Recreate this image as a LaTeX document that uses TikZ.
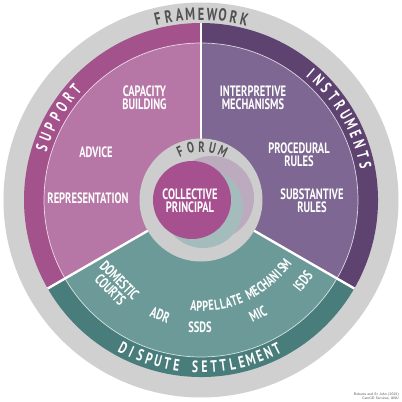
\documentclass[tikz,border=0pt]{standalone}
\usepackage{fontspec}
\newfontfamily\dinfont{PT Sans}[FakeStretch=0.7]
\definecolor{outergrey}{RGB}{208,208,208}
\definecolor{forumgrey}{RGB}{205,205,205}
\definecolor{suplight}{RGB}{183,119,166}
\definecolor{supdark}{RGB}{164,82,140}
\definecolor{inslight}{RGB}{126,103,146}
\definecolor{insdark}{RGB}{94,67,113}
\definecolor{dislight}{RGB}{107,154,152}
\definecolor{disdark}{RGB}{72,125,123}
\definecolor{principal}{RGB}{166,80,143}
\definecolor{mauveshadow}{RGB}{188,170,190}
\definecolor{tealshadow}{RGB}{165,188,188}
\definecolor{darktext}{RGB}{80,80,80}
\tikzset{
  lbl/.style={font=\fontsize{15}{13}\selectfont\dinfont\bfseries, text=white, align=center, inner sep=0pt},
  ringletter/.style={font=\fontsize{16.5}{16}\selectfont\dinfont\bfseries, text=white, inner sep=0pt, anchor=center},
  greyletter/.style={font=\fontsize{17.5}{16}\selectfont\dinfont\bfseries, text=darktext, inner sep=0pt, anchor=center},
  forumletter/.style={font=\fontsize{15}{15}\selectfont\dinfont\bfseries, text=darktext, inner sep=0pt, anchor=center},
  apletter/.style={font=\fontsize{14.5}{15}\selectfont\dinfont\bfseries, text=white, inner sep=0pt, anchor=center},
  sepline/.style={white, line width=2.4pt},
}
% letters along an arc, tops outward, reading clockwise
% #1 style, #2 name prefix, #3 centre angle, #4 radius, #5 step, #6 count, #7 letters
\newcommand\arcOut[7]{%
  \foreach \ch [count=\i] in {#7}{%
    \pgfmathsetmacro\ang{#3+((#6+1)/2-\i)*#5}%
    \node[#1, rotate=\ang-90] (#2\i) at (\ang:#4) {\ch};}}
% letters along an arc, tops inward, reading counter-clockwise
\newcommand\arcIn[7]{%
  \foreach \ch [count=\i] in {#7}{%
    \pgfmathsetmacro\ang{#3-((#6+1)/2-\i)*#5}%
    \node[#1, rotate=\ang+90] (#2\i) at (\ang:#4) {\ch};}}
\begin{document}
\begin{tikzpicture}[x=1pt,y=1pt]
\fill[white] (-201,-202) rectangle (201,200);
\useasboundingbox (-201,-202) rectangle (201,200);
% framework ring
\fill[outergrey] (0,0) circle[radius=197.5pt];
% sectors: dark outer ring
\fill[supdark] (0,0) -- (90:177pt) arc[start angle=90, end angle=210, radius=177pt] -- cycle;
\fill[insdark] (0,0) -- (-30:177pt) arc[start angle=-30, end angle=90, radius=177pt] -- cycle;
\fill[disdark] (0,0) -- (210:177pt) arc[start angle=210, end angle=330, radius=177pt] -- cycle;
% sectors: lighter inner parts
\fill[suplight] (0,0) -- (90:157pt) arc[start angle=90, end angle=210, radius=157pt] -- cycle;
\fill[inslight] (0,0) -- (-30:157pt) arc[start angle=-30, end angle=90, radius=157pt] -- cycle;
\fill[dislight] (0,0) -- (210:157pt) arc[start angle=210, end angle=330, radius=157pt] -- cycle;
\draw[white, opacity=0.75, line width=0.7pt] (0,0) circle[radius=157pt];
% separators
\coordinate (c0) at (0,0);
\coordinate (s1) at (90:177pt);
\coordinate (s2) at (210:177pt);
\coordinate (s3) at (330:177pt);
\draw[sepline] (c0) -- (s1);
\draw[sepline] (c0) -- (s2);
\draw[sepline] (c0) -- (s3);
% forum
\fill[forumgrey] (0,0) circle[radius=61.5pt];
\fill[mauveshadow] (11,2) circle[radius=42pt];
\fill[tealshadow] (2,-8) circle[radius=40pt];
\fill[principal] (-9,0) circle[radius=39pt];
\node[lbl] (principal) at (-11,-1) {COLLECTIVE\\PRINCIPAL};
\arcOut{forumletter}{fo}{89.5}{53pt}{12}{5}{F,O,R,U,M}
% ring titles
\arcOut{greyletter}{fw}{90}{186pt}{3.36}{9}{F,R,A,M,E,W,O,R,K}
\arcOut{ringletter}{su}{150.2}{167.5pt}{3.93}{7}{S,U,P,P,O,R,T}
\arcOut{ringletter}{in}{30.5}{168pt}{3.75}{11}{I,N,S,T,R,U,M,E,N,T,S}
\arcIn{ringletter}{ds}{269.6}{167pt}{3.22}{18}{D,I,S,P,U,T,E,{},S,E,T,T,L,E,M,E,N,T}
% support labels
\node[lbl] (capacity) at (-56.5,102) {CAPACITY\\BUILDING};
\node[lbl] (advice) at (-105,48) {ADVICE};
\node[lbl] (represent) at (-113,2) {REPRESENTATION};
% instrument labels
\node[lbl] (interp) at (52,102) {INTERPRETIVE\\MECHANISMS};
\node[lbl] (proc) at (98,45) {PROCEDURAL\\RULES};
\node[lbl] (subst) at (111,-1) {SUBSTANTIVE\\RULES};
% dispute settlement labels
\node[lbl, rotate=-45] (domestic) at (-86,-85) {DOMESTIC\\COURTS};
\node[lbl, rotate=-20] (adr) at (-41,-115) {ADR};
\node[lbl] (ssds) at (-1,-127) {SSDS};
\node[lbl, rotate=27] (mic) at (57,-114) {MIC};
\node[lbl, rotate=51] (isds) at (102,-81) {ISDS};
\arcIn{apletter}{ap}{294.5}{106pt}{3.17}{19}{A,P,P,E,L,L,A,T,E,{},M,E,C,H,A,N,I,S,M}
% source
\node[font=\fontsize{3.6}{4}\selectfont\sffamily, text=darktext, align=right, inner sep=0pt, anchor=south east] (source) at (198,-200) {Roberts and St John (2019)\\CamGD Services, ANU};
\end{tikzpicture}
\end{document}
